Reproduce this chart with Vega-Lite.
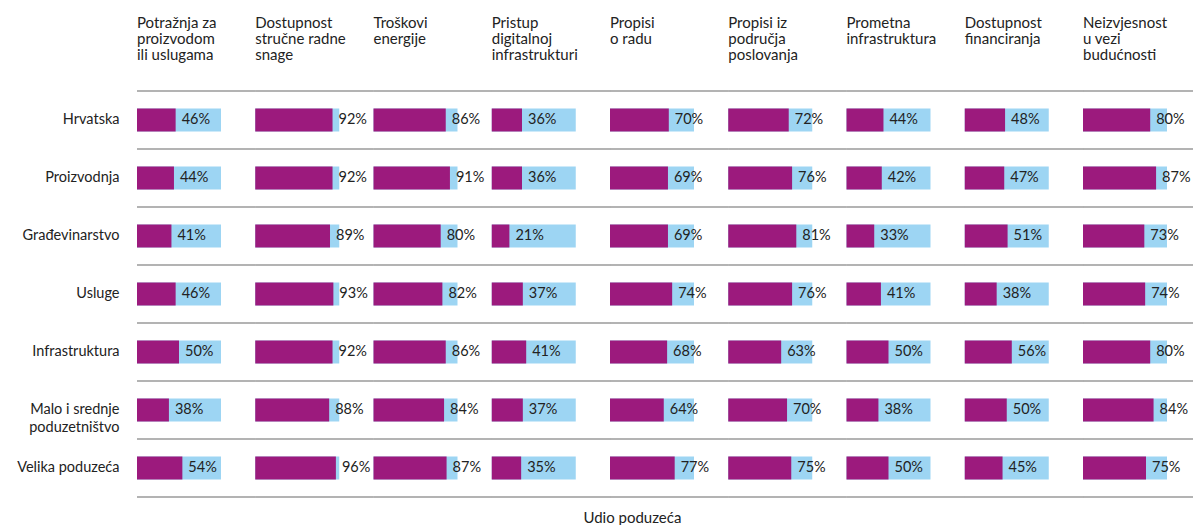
{
  "$schema": "https://vega.github.io/schema/vega-lite/v6.json",
  "background": "white",
  "padding": {"left": 16, "top": 16, "right": 0, "bottom": 0},
  "bounds": "flush",
  "title": {"text": "Udio poduzeća", "orient": "bottom", "anchor": "middle", "font": "Lato", "fontSize": 15, "fontWeight": "normal", "color": "#222222", "offset": 13, "dx": 23},
  "config": {
    "font": "Lato",
    "view": {"stroke": null}
  },
  "data": {"values": [
    {"sector": "Hrvatska", "category": "Potražnja za proizvodom ili uslugama", "value": 46},
    {"sector": "Hrvatska", "category": "Dostupnost stručne radne snage", "value": 92},
    {"sector": "Hrvatska", "category": "Troškovi energije", "value": 86},
    {"sector": "Hrvatska", "category": "Pristup digitalnoj infrastrukturi", "value": 36},
    {"sector": "Hrvatska", "category": "Propisi o radu", "value": 70},
    {"sector": "Hrvatska", "category": "Propisi iz područja poslovanja", "value": 72},
    {"sector": "Hrvatska", "category": "Prometna infrastruktura", "value": 44},
    {"sector": "Hrvatska", "category": "Dostupnost financiranja", "value": 48},
    {"sector": "Hrvatska", "category": "Neizvjesnost u vezi budućnosti", "value": 80},
    {"sector": "Proizvodnja", "category": "Potražnja za proizvodom ili uslugama", "value": 44},
    {"sector": "Proizvodnja", "category": "Dostupnost stručne radne snage", "value": 92},
    {"sector": "Proizvodnja", "category": "Troškovi energije", "value": 91},
    {"sector": "Proizvodnja", "category": "Pristup digitalnoj infrastrukturi", "value": 36},
    {"sector": "Proizvodnja", "category": "Propisi o radu", "value": 69},
    {"sector": "Proizvodnja", "category": "Propisi iz područja poslovanja", "value": 76},
    {"sector": "Proizvodnja", "category": "Prometna infrastruktura", "value": 42},
    {"sector": "Proizvodnja", "category": "Dostupnost financiranja", "value": 47},
    {"sector": "Proizvodnja", "category": "Neizvjesnost u vezi budućnosti", "value": 87},
    {"sector": "Građevinarstvo", "category": "Potražnja za proizvodom ili uslugama", "value": 41},
    {"sector": "Građevinarstvo", "category": "Dostupnost stručne radne snage", "value": 89},
    {"sector": "Građevinarstvo", "category": "Troškovi energije", "value": 80},
    {"sector": "Građevinarstvo", "category": "Pristup digitalnoj infrastrukturi", "value": 21},
    {"sector": "Građevinarstvo", "category": "Propisi o radu", "value": 69},
    {"sector": "Građevinarstvo", "category": "Propisi iz područja poslovanja", "value": 81},
    {"sector": "Građevinarstvo", "category": "Prometna infrastruktura", "value": 33},
    {"sector": "Građevinarstvo", "category": "Dostupnost financiranja", "value": 51},
    {"sector": "Građevinarstvo", "category": "Neizvjesnost u vezi budućnosti", "value": 73},
    {"sector": "Usluge", "category": "Potražnja za proizvodom ili uslugama", "value": 46},
    {"sector": "Usluge", "category": "Dostupnost stručne radne snage", "value": 93},
    {"sector": "Usluge", "category": "Troškovi energije", "value": 82},
    {"sector": "Usluge", "category": "Pristup digitalnoj infrastrukturi", "value": 37},
    {"sector": "Usluge", "category": "Propisi o radu", "value": 74},
    {"sector": "Usluge", "category": "Propisi iz područja poslovanja", "value": 76},
    {"sector": "Usluge", "category": "Prometna infrastruktura", "value": 41},
    {"sector": "Usluge", "category": "Dostupnost financiranja", "value": 38},
    {"sector": "Usluge", "category": "Neizvjesnost u vezi budućnosti", "value": 74},
    {"sector": "Infrastruktura", "category": "Potražnja za proizvodom ili uslugama", "value": 50},
    {"sector": "Infrastruktura", "category": "Dostupnost stručne radne snage", "value": 92},
    {"sector": "Infrastruktura", "category": "Troškovi energije", "value": 86},
    {"sector": "Infrastruktura", "category": "Pristup digitalnoj infrastrukturi", "value": 41},
    {"sector": "Infrastruktura", "category": "Propisi o radu", "value": 68},
    {"sector": "Infrastruktura", "category": "Propisi iz područja poslovanja", "value": 63},
    {"sector": "Infrastruktura", "category": "Prometna infrastruktura", "value": 50},
    {"sector": "Infrastruktura", "category": "Dostupnost financiranja", "value": 56},
    {"sector": "Infrastruktura", "category": "Neizvjesnost u vezi budućnosti", "value": 80},
    {"sector": "Malo i srednje poduzetništvo", "category": "Potražnja za proizvodom ili uslugama", "value": 38},
    {"sector": "Malo i srednje poduzetništvo", "category": "Dostupnost stručne radne snage", "value": 88},
    {"sector": "Malo i srednje poduzetništvo", "category": "Troškovi energije", "value": 84},
    {"sector": "Malo i srednje poduzetništvo", "category": "Pristup digitalnoj infrastrukturi", "value": 37},
    {"sector": "Malo i srednje poduzetništvo", "category": "Propisi o radu", "value": 64},
    {"sector": "Malo i srednje poduzetništvo", "category": "Propisi iz područja poslovanja", "value": 70},
    {"sector": "Malo i srednje poduzetništvo", "category": "Prometna infrastruktura", "value": 38},
    {"sector": "Malo i srednje poduzetništvo", "category": "Dostupnost financiranja", "value": 50},
    {"sector": "Malo i srednje poduzetništvo", "category": "Neizvjesnost u vezi budućnosti", "value": 84},
    {"sector": "Velika poduzeća", "category": "Potražnja za proizvodom ili uslugama", "value": 54},
    {"sector": "Velika poduzeća", "category": "Dostupnost stručne radne snage", "value": 96},
    {"sector": "Velika poduzeća", "category": "Troškovi energije", "value": 87},
    {"sector": "Velika poduzeća", "category": "Pristup digitalnoj infrastrukturi", "value": 35},
    {"sector": "Velika poduzeća", "category": "Propisi o radu", "value": 77},
    {"sector": "Velika poduzeća", "category": "Propisi iz područja poslovanja", "value": 75},
    {"sector": "Velika poduzeća", "category": "Prometna infrastruktura", "value": 50},
    {"sector": "Velika poduzeća", "category": "Dostupnost financiranja", "value": 45},
    {"sector": "Velika poduzeća", "category": "Neizvjesnost u vezi budućnosti", "value": 75}
  ]},
  "facet": {
    "column": {
      "field": "category",
      "type": "nominal",
      "sort": ["Potražnja za proizvodom ili uslugama", "Dostupnost stručne radne snage", "Troškovi energije", "Pristup digitalnoj infrastrukturi", "Propisi o radu", "Propisi iz područja poslovanja", "Prometna infrastruktura", "Dostupnost financiranja", "Neizvjesnost u vezi budućnosti"],
      "title": null,
      "header": {
        "labelOrient": "top",
        "labelAnchor": "start",
        "labelAlign": "left",
        "labelBaseline": "top",
        "labelFont": "Lato",
        "labelFontSize": 15,
        "labelColor": "#222222",
        "labelLineHeight": 16,
        "labelPadding": 28,
        "labelExpr": "({'Potražnja za proizvodom ili uslugama': ['Potražnja za', 'proizvodom', 'ili uslugama'], 'Dostupnost stručne radne snage': ['Dostupnost', 'stručne radne', 'snage'], 'Troškovi energije': ['Troškovi', 'energije', ' '], 'Pristup digitalnoj infrastrukturi': ['Pristup', 'digitalnoj', 'infrastrukturi'], 'Propisi o radu': ['Propisi', 'o radu', ' '], 'Propisi iz područja poslovanja': ['Propisi iz', 'područja', 'poslovanja'], 'Prometna infrastruktura': ['Prometna', 'infrastruktura', ' '], 'Dostupnost financiranja': ['Dostupnost', 'financiranja', ' '], 'Neizvjesnost u vezi budućnosti': ['Neizvjesnost', 'u vezi', 'budućnosti']})[datum.value]"
      }
    }
  },
  "spacing": {"column": 34.25},
  "spec": {
    "width": 84,
    "height": 406,
    "layer": [
      {
        "mark": {"type": "rule", "color": "#9a9a9a", "strokeWidth": 1.5, "yOffset": -29},
        "encoding": {
          "y": {
            "field": "sector",
            "type": "nominal",
            "sort": ["Hrvatska", "Proizvodnja", "Građevinarstvo", "Usluge", "Infrastruktura", "Malo i srednje poduzetništvo", "Velika poduzeća"],
            "scale": {"paddingInner": 0, "paddingOuter": 0},
            "axis": {
              "title": null,
              "domain": false,
              "ticks": false,
              "labelFont": "Lato",
              "labelFontSize": 14.5,
              "labelColor": "#222222",
              "labelPadding": 18,
              "labelLineHeight": 18,
              "labelExpr": "datum.value == 'Malo i srednje poduzetništvo' ? ['Malo i srednje', 'poduzetništvo'] : datum.value"
            }
          },
          "x": {"datum": 0, "type": "quantitative", "scale": {"domain": [0, 100], "nice": false}, "axis": null},
          "x2": {"datum": 141}
        }
      },
      {
        "transform": [{"filter": "datum.sector == 'Velika poduzeća'"}],
        "mark": {"type": "rule", "color": "#9a9a9a", "strokeWidth": 1.5, "yOffset": 29},
        "encoding": {
          "y": {"field": "sector", "type": "nominal", "sort": ["Hrvatska", "Proizvodnja", "Građevinarstvo", "Usluge", "Infrastruktura", "Malo i srednje poduzetništvo", "Velika poduzeća"]},
          "x": {"datum": 0, "type": "quantitative"},
          "x2": {"datum": 141}
        }
      },
      {
        "mark": {"type": "bar", "color": "#9dd5f3", "height": 23},
        "encoding": {
          "y": {"field": "sector", "type": "nominal", "sort": ["Hrvatska", "Proizvodnja", "Građevinarstvo", "Usluge", "Infrastruktura", "Malo i srednje poduzetništvo", "Velika poduzeća"]},
          "x": {"datum": 100, "type": "quantitative"}
        }
      },
      {
        "mark": {"type": "bar", "color": "#9c1a7d", "height": 23},
        "encoding": {
          "y": {"field": "sector", "type": "nominal", "sort": ["Hrvatska", "Proizvodnja", "Građevinarstvo", "Usluge", "Infrastruktura", "Malo i srednje poduzetništvo", "Velika poduzeća"]},
          "x": {"field": "value", "type": "quantitative"}
        }
      },
      {
        "mark": {"type": "text", "align": "left", "baseline": "middle", "dx": 6, "font": "Lato", "fontSize": 14.5, "color": "#222222", "text": {"expr": "datum.value + '%'"}},
        "encoding": {
          "y": {"field": "sector", "type": "nominal", "sort": ["Hrvatska", "Proizvodnja", "Građevinarstvo", "Usluge", "Infrastruktura", "Malo i srednje poduzetništvo", "Velika poduzeća"]},
          "x": {"field": "value", "type": "quantitative"}
        }
      }
    ]
  }
}
